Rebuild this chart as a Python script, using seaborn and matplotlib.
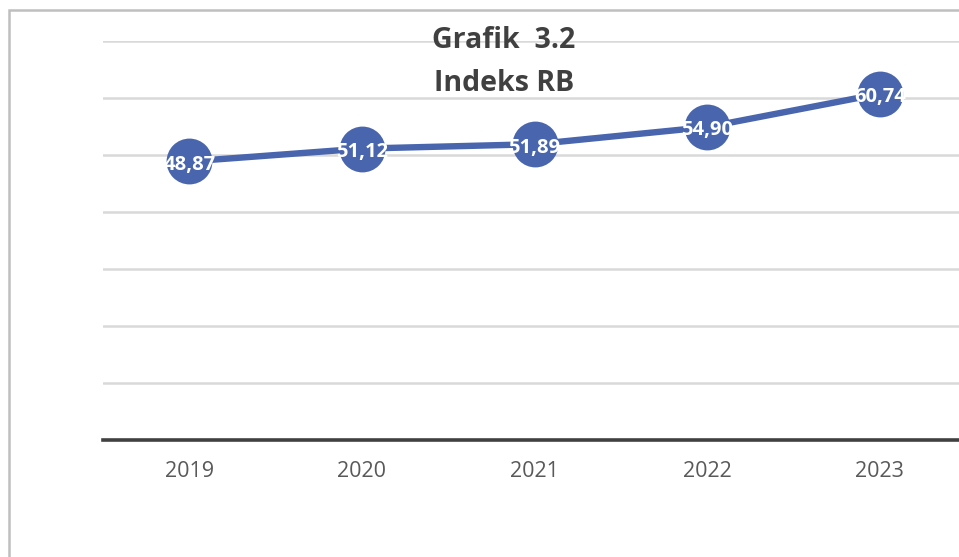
import pandas as pd
import numpy as np
import seaborn as sns
from matplotlib import pyplot as plt
from matplotlib.patches import Rectangle

# data
years = ['2019', '2020', '2021', '2022', '2023']
indeks = [48.87, 51.12, 51.89, 54.90, 60.74]
labels = ['48,87', '51,12', '51,89', '54,90', '60,74']

df = pd.DataFrame({'tahun': years, 'indeks': indeks})

sns.set_style('white')
plt.rcParams['font.family'] = ['Open Sans', 'DejaVu Sans']

fig = plt.figure(figsize=(9.59, 5.57), dpi=100)
# axes run past the right edge like the cropped screenshot
ax = fig.add_axes([103/959, 117/557, 863/959, 399/557])

blue = '#4865ad'
sns.lineplot(x=np.arange(len(years)), y='indeks', data=df, ax=ax, color=blue,
             linewidth=4.6, marker='o', markersize=33, markeredgewidth=0,
             zorder=3)

for i, (v, t) in enumerate(zip(indeks, labels)):
    ax.text(i, v - 0.6, t, ha='center', va='center', color='white',
            fontsize=14.5, fontweight='bold', zorder=4)

ax.set_xlim(-0.5, len(years) - 0.5)
ax.set_ylim(0, 70)
ax.set_yticks(np.arange(0, 71, 10))
ax.set_yticklabels([])
ax.set_xticks(np.arange(len(years)))
ax.set_xticklabels(years, fontsize=15.5, color='#595959')
ax.tick_params(axis='both', length=0, pad=15)
ax.yaxis.grid(True, color='#d9d9d9', linewidth=1.8)
ax.set_axisbelow(True)
ax.set_xlabel('')
ax.set_ylabel('')
for s in ['top', 'right', 'left']:
    ax.spines[s].set_visible(False)
ax.spines['bottom'].set_color('#404040')
ax.spines['bottom'].set_linewidth(2.6)
ax.spines['bottom'].set_zorder(2)

fig.text(504/959, 1 - 62/557, 'Grafik  3.2\nIndeks RB', ha='center', va='center',
         fontsize=20.5, fontweight='bold', color='#404040', linespacing=1.6)

# outer chart border, cropped on the right and bottom
fig.patches.append(Rectangle((9/959, -0.1), 1.2, 1 - 10/557 + 0.1,
                             transform=fig.transFigure, fill=False,
                             edgecolor='#bfbfbf', linewidth=1.8))

fig.savefig('out.png', dpi=100)
